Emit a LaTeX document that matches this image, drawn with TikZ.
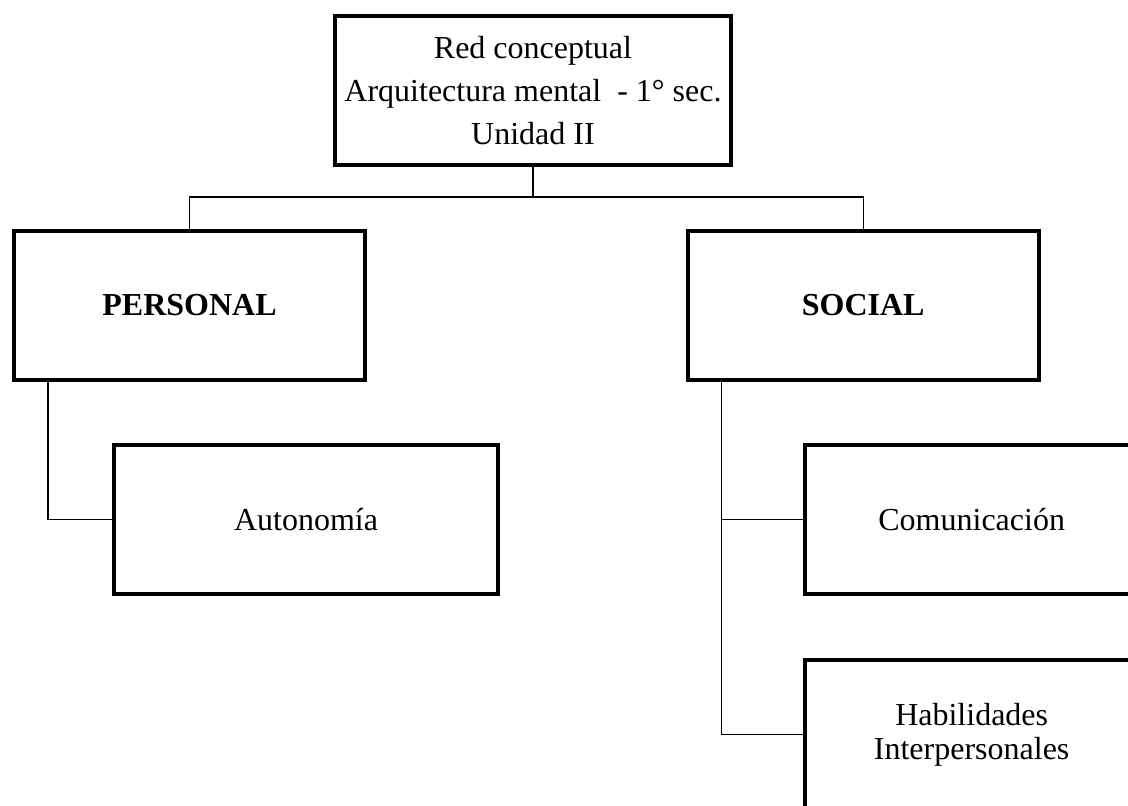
\documentclass[tikz,border=0pt]{standalone}
\usepackage{fontspec}
\setmainfont{Liberation Serif}
\usetikzlibrary{positioning}

\begin{document}
\begin{tikzpicture}[x=0.75pt, y=-0.75pt]
    \tikzset{box/.style={
        draw, line width=3pt, inner sep=0pt, align=center,
        minimum height=111.75pt, font=\fontsize{24}{32}\selectfont
      },
      headbox/.style={box, minimum width=263.25pt, font=\fontsize{24}{32}\selectfont\bfseries},
      leafbox/.style={box, minimum width=250.5pt},
      link/.style={line width=1pt}
    }

    \useasboundingbox (0,0) rectangle (1128,806);
    \clip (0,0) rectangle (1128,806);

    \node[box, minimum width=297pt] (red) at (533,90.5)
      {Red conceptual\\Arquitectura mental\ \ - 1° sec.\\Unidad II};

    \node[headbox] (personal) at (189.5,305.5) {PERSONAL};
    \node[headbox] (social) [right=239pt of personal] {SOCIAL};

    \node[box, minimum width=288pt] (auto)
      [below=45.75pt of personal.south west, anchor=north west, xshift=75pt] {Autonomía};

    \node[leafbox] (comu)
      [below=45.75pt of social.south west, anchor=north west, xshift=87.75pt] {Comunicación};
    \node[leafbox, font=\fontsize{24}{25.5}\selectfont] (habil) [below=46.5pt of comu]
      {Habilidades\\Interpersonales};

    \draw[link] (red.south) -- ++(0,30) coordinate (fork);
    \draw[link] (personal.north) |- (fork) -| (social.north);

    \draw[link] ([xshift=27pt]personal.south west) |- (auto.west);

    \draw[link] ([xshift=27pt]social.south west) |- (comu.west);
    \draw[link] ([xshift=27pt]social.south west) |- (habil.west);
  \end{tikzpicture}
\end{document}
